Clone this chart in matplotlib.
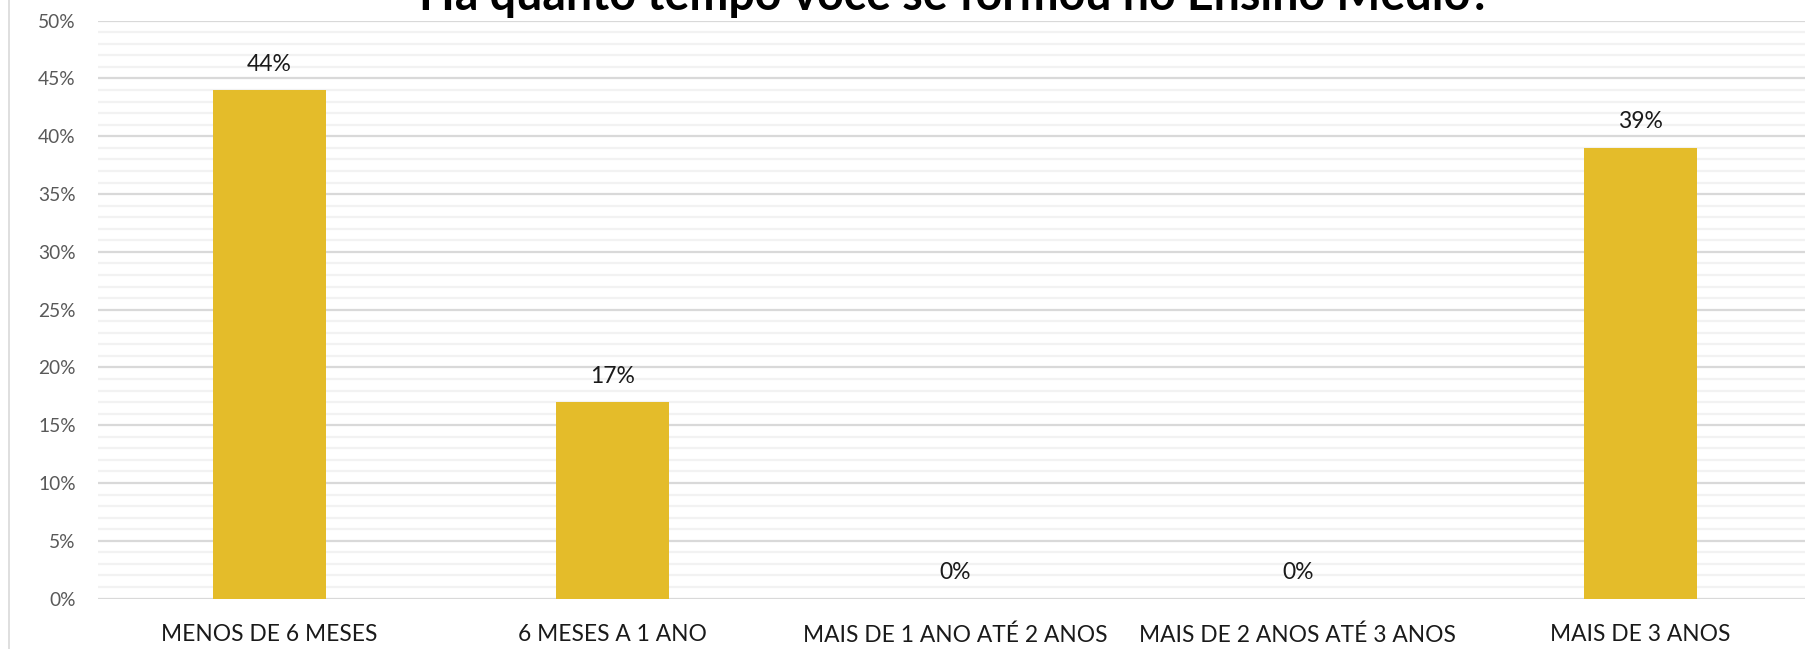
import matplotlib
matplotlib.use('Agg')
import matplotlib.pyplot as plt
from matplotlib.lines import Line2D
from matplotlib.ticker import MultipleLocator, PercentFormatter

# dados do gráfico
categorias = ['MENOS DE 6 MESES', '6 MESES A 1 ANO', 'MAIS DE 1 ANO ATÉ 2 ANOS',
              'MAIS DE 2 ANOS ATÉ 3 ANOS', 'MAIS DE 3 ANOS']
valores = [44, 17, 0, 0, 39]
titulo = 'Há quanto tempo você se formou no Ensino Médio?'

plt.rcParams['font.family'] = ['Lato', 'DejaVu Sans']

fig = plt.figure(figsize=(18.05, 6.49), dpi=100)
ax = fig.add_axes([98 / 1805, 1 - 598.6 / 649, 1714 / 1805, (598.6 - 20.7) / 649])

x = range(len(categorias))
bars = ax.bar(x, valores, width=0.33, color='#E4BC2A', zorder=3)

for b, v in zip(bars, valores):
    ax.annotate(f'{v}%', (b.get_x() + b.get_width() / 2, v), xytext=(0, 18.7),
                textcoords='offset points', ha='center', va='center',
                fontsize=16.5, color='#1a1a1a')

ax.set_xlim(-0.5, len(categorias) - 0.5)
ax.set_ylim(0, 50)
ax.yaxis.set_major_locator(MultipleLocator(5))
ax.yaxis.set_minor_locator(MultipleLocator(1))
ax.yaxis.set_major_formatter(PercentFormatter(decimals=0))
ax.grid(axis='y', which='major', color='#D9D9D9', linewidth=1.6, zorder=0)
ax.grid(axis='y', which='minor', color='#F2F2F2', linewidth=1.6, zorder=0)
ax.set_axisbelow(True)

ax.set_xticks(list(x))
ax.set_xticklabels(categorias)
ax.tick_params(axis='x', length=0, pad=18.5, labelsize=16.4, labelcolor='#1a1a1a')
ax.tick_params(axis='y', which='both', length=0, pad=16, labelsize=13.8, labelcolor='#595959')
for s in ax.spines.values():
    s.set_visible(False)

# borda da área do gráfico
fig.add_artist(Line2D([9 / 1805, 9 / 1805], [0, 1], transform=fig.transFigure,
                      color='#D9D9D9', linewidth=1.2))

fig.text(955 / 1805, 1 - 10 / 649, titulo, ha='center', va='baseline',
         fontsize=33.5, fontweight='bold', color='#000000')

plt.savefig('out.png', dpi=100)
